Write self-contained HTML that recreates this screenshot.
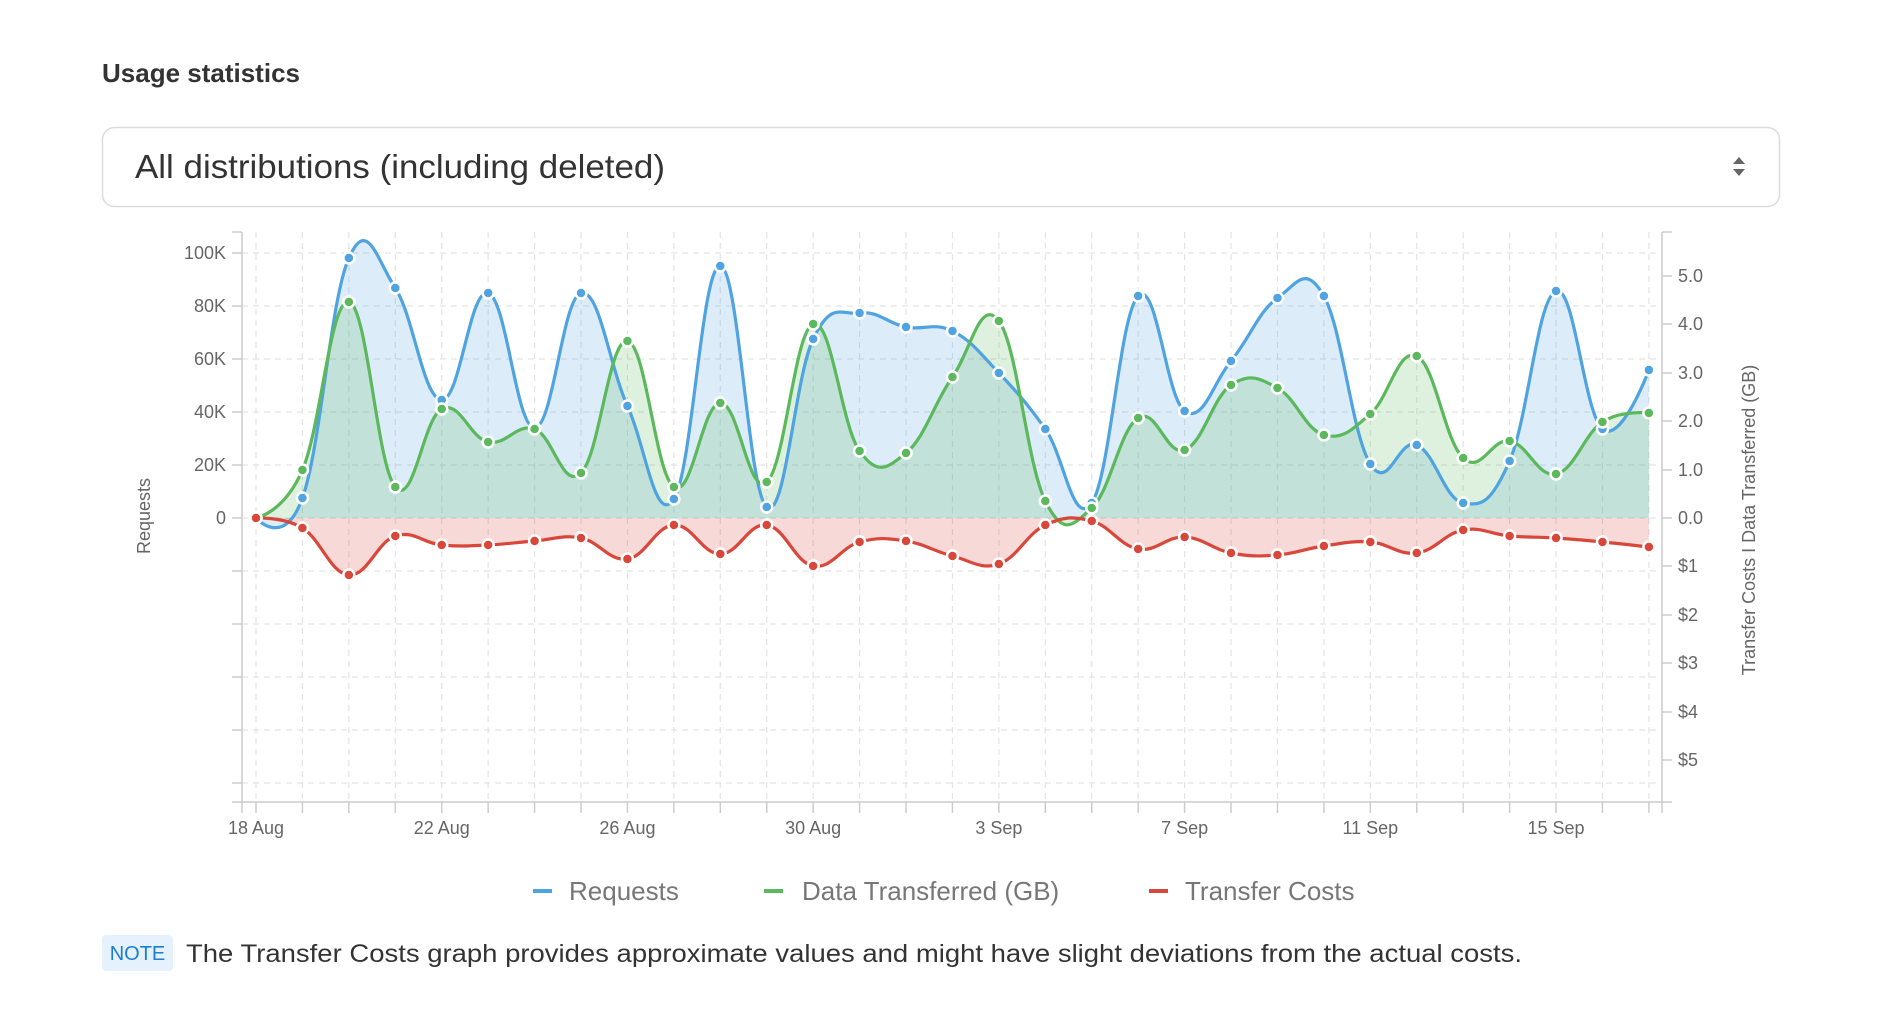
<!DOCTYPE html>
<html><head><meta charset="utf-8"><style>
html,body{margin:0;padding:0;background:#fff;}
svg{display:block;font-family:"Liberation Sans",sans-serif;}
</style></head><body>
<svg id="s" width="1896" height="1010" viewBox="0 0 1896 1010" xmlns="http://www.w3.org/2000/svg">
<text x="102" y="82" font-size="26" fill="#333" font-weight="bold">Usage statistics</text>
<rect x="102.5" y="127.5" width="1677" height="79" rx="12" fill="#fff" stroke="#dcdcdc" stroke-width="1.5"/>
<text x="135" y="178" font-size="33" fill="#333" textLength="530" lengthAdjust="spacingAndGlyphs">All distributions (including deleted)</text>
<path d="M1733 164 L1745 164 L1739 157 Z M1733 169 L1745 169 L1739 176 Z" fill="#666"/>
<g id="grid"></g>
<g id="areas"></g>
<g id="lines"></g>
<g id="marks"></g>
<g font-size="18" fill="#666" text-anchor="end">
<text x="226" y="259">100K</text><text x="226" y="312">80K</text><text x="226" y="365">60K</text>
<text x="226" y="418">40K</text><text x="226" y="471">20K</text><text x="226" y="524">0</text>
</g>
<g font-size="18" fill="#666">
<text x="1678" y="282">5.0</text><text x="1678" y="330">4.0</text><text x="1678" y="379">3.0</text>
<text x="1678" y="427">2.0</text><text x="1678" y="476">1.0</text><text x="1678" y="524">0.0</text>
<text x="1678" y="572">$1</text><text x="1678" y="621">$2</text><text x="1678" y="669">$3</text>
<text x="1678" y="718">$4</text><text x="1678" y="766">$5</text>
</g>
<text transform="translate(150,516) rotate(-90)" font-size="18" fill="#666" text-anchor="middle">Requests</text>
<text transform="translate(1755,520) rotate(-90)" font-size="18" fill="#666" text-anchor="middle">Transfer Costs I Data Transferred (GB)</text>
<g id="xl" font-size="18" fill="#666" text-anchor="middle"></g>
<g font-size="26" fill="#777">
<rect x="533" y="889" width="19" height="4" fill="#4fa3e0"/><text x="569" y="900">Requests</text>
<rect x="764" y="889" width="19" height="4" fill="#5cb85c"/><text x="802" y="900">Data Transferred (GB)</text>
<rect x="1149" y="889" width="19" height="4" fill="#d9473a"/><text x="1185" y="900">Transfer Costs</text>
</g>
<rect x="102" y="935" width="71" height="36" rx="4" fill="#e5f1fc"/>
<text x="137.5" y="960" font-size="20" fill="#1a7fd4" text-anchor="middle">NOTE</text>
<text x="186" y="962" font-size="25" fill="#333" textLength="1336" lengthAdjust="spacingAndGlyphs">The Transfer Costs graph provides approximate values and might have slight deviations from the actual costs.</text>
</svg>
<script>
var NS="http://www.w3.org/2000/svg";
function el(p,t,a){var e=document.createElementNS(NS,t);for(var k in a)e.setAttribute(k,a[k]);document.getElementById(p).appendChild(e);return e;}
var X0=256,DX=46.43,Z=518;
var B=[518,498,258,288,400,293,428,293,406,499,266,507,339,313,327,331,373,429,503,296,411,361,298,296,464,445,503,461,291,429,370];
var G=[518,470,302,487,409,442,429,473,341,487,403,482,324,451,453,377,321,501,508,418,450,385,388,435,414,356,458,441,474,422,413];
var R=[518,528,575,536,545,545,541,538,559,525,554,525,566,542,541,556,564,525,521,549,537,553,555,546,542,553,530,536,538,542,547];
[253,306,359,412,465,518,571,624,677,730,783].forEach(function(y){
 el("grid","line",{x1:242,x2:1662,y1:y,y2:y,stroke:"#e3e3e3","stroke-dasharray":"6,5","stroke-width":1.2});
 el("grid","line",{x1:232,x2:242,y1:y,y2:y,stroke:"#ccc","stroke-width":1.5});});
[276,324,373,421,470,518,566,615,663,712,760].forEach(function(y){
 el("grid","line",{x1:1662,x2:1672,y1:y,y2:y,stroke:"#ccc","stroke-width":1.5});});
for(var i=0;i<31;i++){var x=X0+i*DX;
 el("grid","line",{x1:x,x2:x,y1:232,y2:802,stroke:"#e3e3e3","stroke-dasharray":"6,5","stroke-width":1.2});
 el("grid","line",{x1:x,x2:x,y1:802,y2:813,stroke:"#ccc","stroke-width":1.5});}
el("grid","line",{x1:242,x2:242,y1:232,y2:802,stroke:"#ccc","stroke-width":1.5});
el("grid","line",{x1:1662,x2:1662,y1:232,y2:802,stroke:"#ccc","stroke-width":1.5});
el("grid","line",{x1:232,x2:1672,y1:802,y2:802,stroke:"#ccc","stroke-width":1.5});
el("grid","line",{x1:242,x2:242,y1:802,y2:813,stroke:"#ccc","stroke-width":1.5});
el("grid","line",{x1:1662,x2:1662,y1:802,y2:813,stroke:"#ccc","stroke-width":1.5});
el("grid","line",{x1:232,x2:242,y1:232,y2:232,stroke:"#ccc","stroke-width":1.5});
el("grid","line",{x1:1662,x2:1672,y1:232,y2:232,stroke:"#ccc","stroke-width":1.5});
var labs=["18 Aug","22 Aug","26 Aug","30 Aug","3 Sep","7 Sep","11 Sep","15 Sep"];
labs.forEach(function(t,k){var e=el("xl","text",{x:X0+4*k*DX,y:834});e.textContent=t;});
function spline(Y){
 var n=Y.length,P=[];for(var i=0;i<n;i++)P.push({x:X0+i*DX,y:Y[i]});
 var lc=[],rc=[];var s=1.5,d=s+1;
 for(var i=0;i<n;i++){
  if(i==0||i==n-1){lc[i]=[P[i].x,P[i].y];rc[i]=[P[i].x,P[i].y];continue;}
  var p=P[i-1],c=P[i],q=P[i+1];
  var lx=(s*c.x+p.x)/d,ly=(s*c.y+p.y)/d,rx=(s*c.x+q.x)/d,ry=(s*c.y+q.y)/d;
  var df=((ry-ly)*(rx-c.x))/(rx-lx)+c.y-ry;ly+=df;ry+=df;
  lc[i]=[lx,ly];rc[i]=[rx,ry];}
 var dd="M"+P[0].x+" "+P[0].y;
 for(var i=1;i<n;i++)dd+=" C"+rc[i-1][0]+" "+rc[i-1][1]+" "+lc[i][0]+" "+lc[i][1]+" "+P[i].x+" "+P[i].y;
 return {d:dd,P:P};}
var S=[[B,"#4fa3e0"],[G,"#5cb85c"],[R,"#d9473a"]];
S.forEach(function(s){var r=spline(s[0]);var x1=X0+30*DX;
 el("areas","path",{d:r.d+" L"+x1+" "+Z+" L"+X0+" "+Z+" Z",fill:s[1],"fill-opacity":0.2});
 el("lines","path",{d:r.d,fill:"none",stroke:s[1],"stroke-width":3.2,"stroke-linejoin":"round"});
 r.P.forEach(function(p){el("marks","circle",{cx:p.x,cy:p.y,r:5.5,fill:s[1],stroke:"#fff","stroke-width":2.5});});});
</script>
</body></html>
